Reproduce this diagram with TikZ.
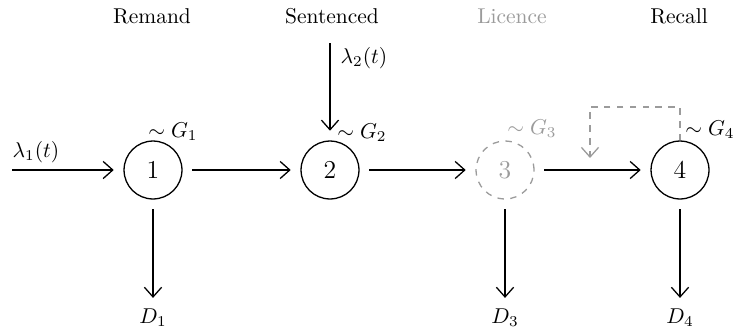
\documentclass[tikz,border=0pt]{standalone}
\usetikzlibrary{arrows.meta}
\definecolor{lic}{RGB}{155,155,155}
\tikzset{
  state/.style={circle,draw,semithick,minimum size=27pt,inner sep=0pt,font=\large},
  ghost/.style={state,dashed,draw=lic,text=lic},
  flow/.style={semithick,-{Straight Barb[length=4.5pt,width=8pt]},shorten <=4.5pt,shorten >=4.5pt},
  fb/.style={semithick,dashed,draw=lic,-{Straight Barb[length=4.5pt,width=8pt]}},
  title/.style={inner sep=0pt},
  lbl/.style={inner sep=0pt},
}
\begin{document}
\begin{tikzpicture}[x=0.466pt,y=-0.466pt]
\useasboundingbox (0,0) rectangle (733,333);
% titles
\node[title] (tR) at (152,16) {Remand};
\node[title] (tS) at (332,16) {Sentenced};
\node[title,text=lic] (tL) at (512,16) {Licence};
\node[title] (tC) at (679,16) {Recall};
% states
\node[state] (n1) at (153,170) {1};
\node[state] (n2) at (330,170) {2};
\node[ghost] (n3) at (505,170) {3};
\node[state] (n4) at (680,170) {4};
% distribution labels
\node[lbl] (g1) at (173,132) {$\sim G_1$};
\node[lbl] (g2) at (362,133) {$\sim G_2$};
\node[lbl,text=lic] (g3) at (532,129) {$\sim G_3$};
\node[lbl] (g4) at (710,130) {$\sim G_4$};
% inputs
\coordinate (in1) at (12,170);
\coordinate (in2) at (330,43);
\node[lbl] (l1) at (36,152) {$\lambda_1(t)$};
\node[lbl] (l2) at (364,58) {$\lambda_2(t)$};
\draw[flow,shorten <=0pt] (in1) -- (n1);
\draw[flow,shorten <=0pt] (in2) -- (n2);
% transitions
\draw[flow] (n1) -- (n2);
\draw[flow] (n2) -- (n3);
\draw[flow] (n3) -- (n4);
% exits
\node[lbl] (d1) at (153,318) {$D_1$};
\node[lbl] (d3) at (505,318) {$D_3$};
\node[lbl] (d4) at (680,318) {$D_4$};
\draw[flow,shorten >=5pt] (n1) -- (n1 |- d1.north);
\draw[flow,shorten >=5pt] (n3) -- (n3 |- d3.north);
\draw[flow,shorten >=5pt] (n4) -- (n4 |- d4.north);
% feedback
\coordinate (fbT) at (680,107);
\coordinate (fbL) at (590,107);
\coordinate (fbE) at (590,158);
\draw[fb] (n4.north) -- (fbT) -- (fbL) -- (fbE);
\end{tikzpicture}
\end{document}
